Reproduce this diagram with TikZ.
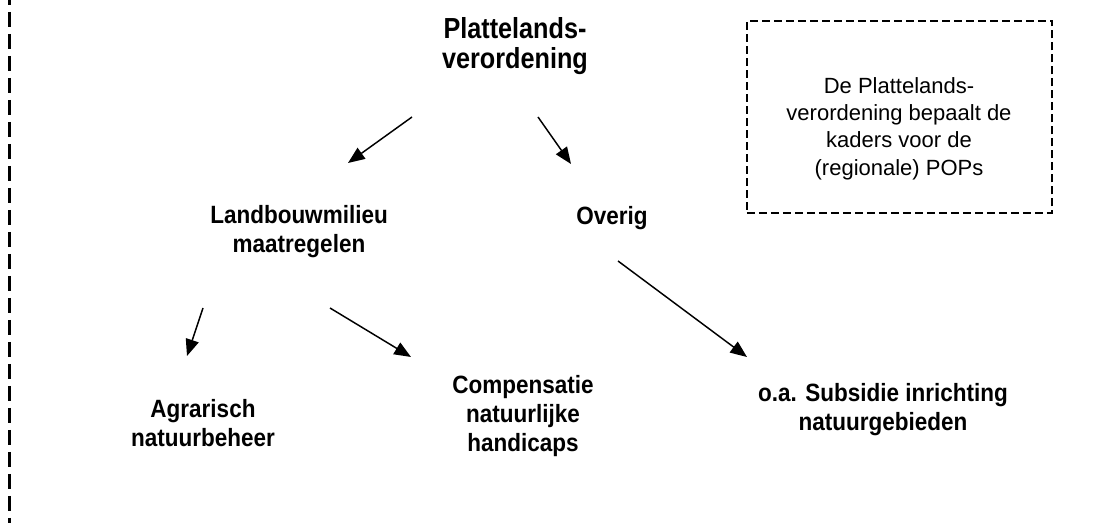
\documentclass[tikz,border=0pt]{standalone}
\usepackage{fontspec}
\setmainfont{Liberation Sans}
\newfontfamily\titlefam[FakeStretch=0.87]{Liberation Sans}
\newfontfamily\labelfam[FakeStretch=0.9]{Liberation Sans}
\usetikzlibrary{arrows.meta}

\tikzset{
  titlelabel/.style={align=center, inner sep=0pt,
    font=\titlefam\bfseries\fontsize{21.75pt}{22.5pt}\selectfont},
  boldlabel/.style={align=center, inner sep=0pt,
    font=\labelfam\bfseries\fontsize{18.75pt}{21.75pt}\selectfont},
  notetext/.style={align=center, inner sep=0pt,
    font=\fontsize{16.5pt}{20.5pt}\selectfont},
  link/.style={line width=1.1pt, -{Triangle[length=12.5pt,width=10pt]}},
  notebox/.style={line width=1.2pt, dash pattern=on 6pt off 3pt},
  margin/.style={line width=1.6pt, dash pattern=on 11.25pt off 5.25pt, dash phase=7.5pt}
}

\begin{document}
\begin{tikzpicture}[x=0.75pt, y=-0.75pt]
  \useasboundingbox (0,0) rectangle (1110,523);

  % left margin rule
  \coordinate (mtop) at (9.5,0);
  \coordinate (mbot) at (9.5,523);
  \draw[margin] (mtop) -- (mbot);

  % note box
  \node[notebox, draw, minimum width=229pt, minimum height=144pt, inner sep=0pt]
    (box) at (899.5,117) {};
  \node[notetext] (note) at (899,128.5)
    {De Plattelands-\\verordening bepaalt de\\kaders voor de\\(regionale) POPs};

  % labels
  \node[titlelabel] (plv) at (515,46.5) {Plattelands-\\verordening};
  \node[boldlabel] (lbm) at (299,232) {Landbouwmilieu\\maatregelen};
  \node[boldlabel] (ovr) at (612,218) {Overig};
  \node[boldlabel] (agr) at (203,423) {Agrarisch\\natuurbeheer};
  \node[boldlabel] (cmp) at (523,416) {Compensatie\\natuurlijke\\handicaps};
  \node[boldlabel] (sub) at (883,410) {o.a. Subsidie inrichting\\natuurgebieden};

  % arrow end points
  \coordinate (a1s) at (412,117); \coordinate (a1e) at (348,163);
  \coordinate (a2s) at (538,117); \coordinate (a2e) at (571,164);
  \coordinate (a3s) at (203,308); \coordinate (a3e) at (187,356);
  \coordinate (a4s) at (330,308); \coordinate (a4e) at (411,357);
  \coordinate (a5s) at (618,261); \coordinate (a5e) at (747,357);

  \draw[link] (a1s) -- (a1e);
  \draw[link] (a2s) -- (a2e);
  \draw[link] (a3s) -- (a3e);
  \draw[link] (a4s) -- (a4e);
  \draw[link] (a5s) -- (a5e);
\end{tikzpicture}
\end{document}
